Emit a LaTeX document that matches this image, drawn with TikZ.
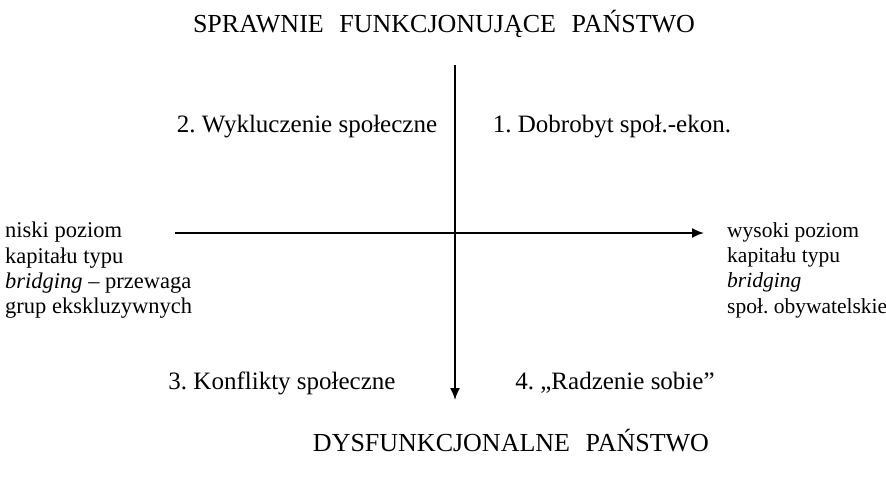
\documentclass[tikz,border=0pt]{standalone}
\usepackage{fontspec}
\setmainfont{Liberation Serif}
\usetikzlibrary{arrows.meta}
\begin{document}
\frenchspacing
\begin{tikzpicture}[x=1pt,y=-1pt,
  lbl/.style={font=\fontsize{25}{28}\selectfont, inner sep=0pt},
  ttl/.style={font=\fontsize{26}{29}\selectfont, inner sep=0pt},
  side/.style={font=\fontsize{22.5}{25.3}\selectfont, inner sep=0pt, align=left},
  axis/.style={line width=1.8pt, -{Latex[length=12pt,width=10pt]}}]
\useasboundingbox (0,0) rectangle (886,477);
\node[ttl] (top) at (444,24) {SPRAWNIE\hspace{0.6em}FUNKCJONUJĄCE\hspace{0.6em}PAŃSTWO};
\node[ttl] (bot) at (511,441) {DYSFUNKCJONALNE\hspace{0.6em}PAŃSTWO};
\coordinate (vt) at (455,65);
\coordinate (vb) at (455,400);
\coordinate (hl) at (175,233);
\coordinate (hr) at (704,233);
\draw[axis] (vt) -- (vb);
\draw[axis] (hl) -- (hr);
\node[lbl] (q2) at (307,127) {2. Wykluczenie społeczne};
\node[lbl] (q1) at (612,127) {1. Dobrobyt społ.-ekon.};
\node[lbl] (q3) at (282,383) {3. Konflikty społeczne};
\node[lbl] (q4) at (615,383) {4. „Radzenie sobie”};
\node[side, anchor=north west] (left) at (5,222) {niski poziom\\kapitału typu\\\textit{bridging} – przewaga\\grup ekskluzywnych};
\node[side, font=\fontsize{21.5}{25.3}\selectfont, anchor=north west] (right) at (727,222) {wysoki poziom\\kapitału typu\\\textit{bridging}\\społ. obywatelskie};
\end{tikzpicture}
\end{document}
